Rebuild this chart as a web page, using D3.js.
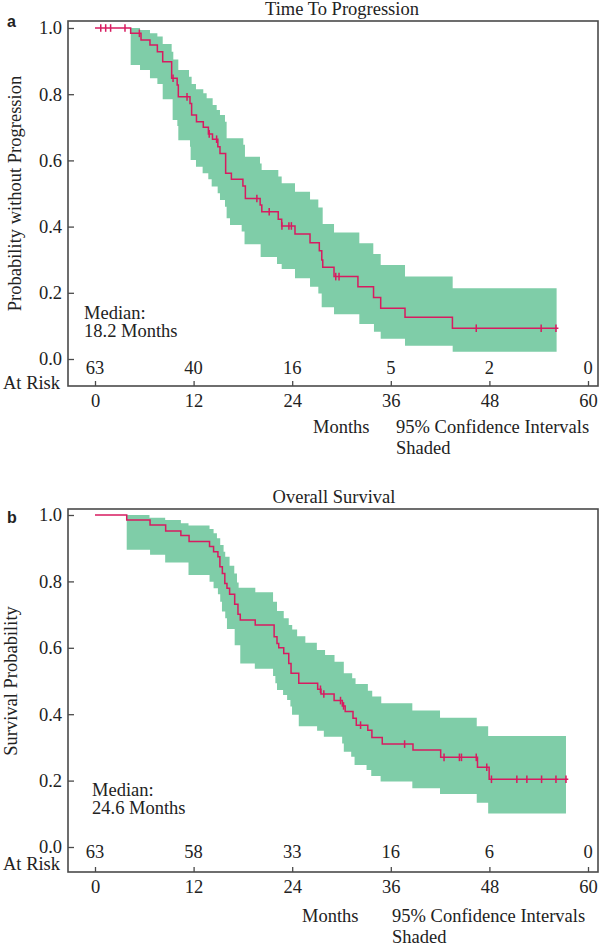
<!DOCTYPE html>
<html>
<head>
<meta charset="utf-8">
<script src="https://cdn.jsdelivr.net/npm/d3@7"></script>
<style>
  html, body { margin: 0; padding: 0; background: #fff; }
  svg text { font-family: "Liberation Serif", "DejaVu Serif", serif; fill: #222; }
</style>
</head>
<body>
<svg id="chart" width="600" height="947"></svg>
<script>
// ---------- DATA ----------
const monthTicks = [0, 12, 24, 36, 48, 60];
const probTicks = [0, 0.2, 0.4, 0.6, 0.8, 1.0];

// Panel a: Time To Progression
const tpStepTimes = [0, 4.34, 5.6, 6.69, 7.59, 8.24, 9.33, 10.0, 10.14, 11.56, 11.76, 12.35, 13.18, 13.8, 14.3, 14.95, 15.21, 15.9, 16.6, 18.0, 18.3, 20.1, 20.3, 22.3, 22.72, 24.34, 26.17, 27.3, 27.6, 27.72, 29.09, 32.0, 33.9, 34.77, 37.73, 43.5];
const tpSurv = [1.0, 0.984, 0.964, 0.949, 0.928, 0.898, 0.848, 0.828, 0.792, 0.772, 0.737, 0.717, 0.700, 0.680, 0.664, 0.641, 0.621, 0.561, 0.543, 0.523, 0.485, 0.465, 0.445, 0.422, 0.402, 0.378, 0.351, 0.327, 0.299, 0.277, 0.249, 0.218, 0.186, 0.153, 0.126, 0.093];
const tpEnd = 56.4;
const tpCensor = [0.7, 1.3, 1.9, 3.65, 5.4, 9.5, 11.2, 13.9, 14.8, 19.7, 21.2, 22.75, 23.6, 23.9, 29.3, 29.7, 46.4, 54.3, 56.1];
const tpUpperTimes = [4.34, 5.48, 6.69, 7.59, 8.24, 9.33, 9.53, 10.14, 11.44, 11.76, 12.29, 13.18, 13.59, 14.32, 14.81, 15.21, 15.82, 16.02, 18.05, 18.25, 20.08, 20.28, 22.31, 22.72, 24.34, 26.17, 27.18, 27.71, 29.09, 32.17, 33.87, 34.77, 37.73, 43.53];
const tpUpperVals = [1.0, 0.994, 0.984, 0.974, 0.952, 0.928, 0.905, 0.873, 0.853, 0.831, 0.815, 0.803, 0.788, 0.767, 0.752, 0.737, 0.717, 0.667, 0.647, 0.611, 0.591, 0.571, 0.551, 0.531, 0.505, 0.482, 0.458, 0.408, 0.382, 0.350, 0.317, 0.284, 0.249, 0.214];
const tpLowerTimes = [4.34, 5.48, 6.69, 7.59, 8.24, 9.45, 10.02, 10.14, 11.56, 11.64, 12.29, 13.10, 13.79, 14.20, 14.93, 15.21, 15.82, 16.02, 16.43, 17.85, 18.2, 20.16, 22.15, 22.72, 24.34, 26.17, 27.18, 27.59, 29.09, 32.17, 33.95, 34.77, 37.73, 43.53];
const tpLowerVals = [0.888, 0.873, 0.848, 0.831, 0.785, 0.722, 0.704, 0.661, 0.641, 0.601, 0.581, 0.561, 0.543, 0.521, 0.501, 0.480, 0.460, 0.425, 0.405, 0.385, 0.347, 0.308, 0.287, 0.272, 0.244, 0.218, 0.198, 0.156, 0.135, 0.106, 0.082, 0.061, 0.040, 0.022];
const tpBandEnd = 56.18;
const tpAtRisk = [63, 40, 16, 5, 2, 0];

// Panel b: Overall Survival
const osStepTimes = [0, 3.86, 6.7, 8.6, 10.45, 11.45, 13.94, 14.43, 14.96, 15.2, 15.5, 15.8, 16.06, 16.38, 17.0, 17.4, 17.68, 19.5, 21.8, 22.15, 22.36, 22.97, 23.58, 23.86, 24.8, 27.1, 27.5, 29.1, 30.1, 30.45, 31.4, 31.8, 33.2, 33.7, 34.96, 38.7, 42.07, 46.55, 47.97];
const osSurv = [1.0, 0.985, 0.970, 0.952, 0.938, 0.920, 0.905, 0.889, 0.874, 0.844, 0.824, 0.794, 0.779, 0.761, 0.731, 0.701, 0.684, 0.669, 0.633, 0.613, 0.600, 0.583, 0.553, 0.523, 0.493, 0.475, 0.461, 0.441, 0.425, 0.408, 0.388, 0.367, 0.352, 0.330, 0.310, 0.292, 0.270, 0.240, 0.204];
const osEnd = 57.6;
const osCensor = [27.44, 27.85, 29.88, 30.25, 32.32, 37.68, 42.48, 44.35, 44.6, 46.4, 47.68, 48.25, 51.34, 52.56, 54.35, 56.1, 57.32];
const osUpperTimes = [3.86, 6.63, 8.54, 10.45, 11.38, 13.94, 14.43, 14.84, 15.24, 15.65, 15.85, 16.38, 16.95, 17.28, 17.48, 19.51, 21.67, 22.15, 22.97, 23.58, 24.0, 24.6, 25.6, 27.0, 28.0, 29.15, 30.28, 31.30, 31.71, 33.21, 33.74, 34.84, 38.62, 41.99, 46.46, 47.85];
const osUpperVals = [1.0, 0.992, 0.985, 0.975, 0.968, 0.958, 0.945, 0.930, 0.910, 0.889, 0.874, 0.847, 0.824, 0.797, 0.781, 0.767, 0.739, 0.711, 0.689, 0.669, 0.655, 0.635, 0.615, 0.593, 0.578, 0.558, 0.523, 0.508, 0.491, 0.471, 0.453, 0.433, 0.411, 0.389, 0.364, 0.334];
const osLowerTimes = [3.86, 6.7, 8.54, 11.38, 13.94, 14.43, 14.96, 15.24, 15.45, 15.85, 16.06, 17.0, 17.68, 19.45, 21.67, 21.95, 22.15, 22.89, 23.38, 23.78, 23.98, 24.80, 27.03, 27.85, 30.08, 30.28, 31.18, 31.59, 33.05, 33.62, 34.76, 38.62, 41.99, 46.46, 47.85];
const osLowerVals = [0.895, 0.880, 0.857, 0.819, 0.799, 0.779, 0.761, 0.739, 0.709, 0.689, 0.657, 0.608, 0.553, 0.537, 0.515, 0.493, 0.473, 0.458, 0.443, 0.423, 0.398, 0.364, 0.350, 0.332, 0.312, 0.287, 0.272, 0.247, 0.232, 0.214, 0.197, 0.177, 0.160, 0.133, 0.101];
const osBandEnd = 57.32;
const osAtRisk = [63, 58, 33, 16, 6, 0];

// ---------- DRAW ----------
const svg = d3.select("#chart");
const GREEN = "#7fcda8";
const RED = "#d81b60";
const FRAME = "#4a4a4a";
const FS = 18.5;

function stepAt(times, vals, t) {
  const i = d3.bisectRight(times, t) - 1;
  return vals[Math.max(0, i)];
}

function drawPanel(cfg) {
  const g = svg.append("g");
  const x = d3.scaleLinear().domain([0, 60]).range([95, 588]);
  const y = d3.scaleLinear().domain([0, 1]).range([cfg.y0, cfg.y1]);

  // confidence band
  const bps = Array.from(new Set(cfg.upT.concat(cfg.loT))).sort((a, b) => a - b);
  const band = bps.map(t => ({t, hi: stepAt(cfg.upT, cfg.upV, t), lo: stepAt(cfg.loT, cfg.loV, t)}));
  const last = band[band.length - 1];
  band.push({t: cfg.bandEnd, hi: last.hi, lo: last.lo});
  g.append("path")
    .datum(band)
    .attr("fill", GREEN)
    .attr("d", d3.area().curve(d3.curveStepAfter)
      .x(d => x(d.t)).y0(d => y(d.lo)).y1(d => y(d.hi)));

  // KM line
  const pts = cfg.times.map((t, i) => ({t, s: cfg.surv[i]}));
  pts.push({t: cfg.end, s: cfg.surv[cfg.surv.length - 1]});
  g.append("path")
    .datum(pts)
    .attr("fill", "none")
    .attr("stroke", RED)
    .attr("stroke-width", 1.5)
    .attr("d", d3.line().curve(d3.curveStepAfter).x(d => x(d.t)).y(d => y(d.s)));

  // censor marks
  g.selectAll("line.cens").data(cfg.censor).enter().append("line")
    .attr("class", "cens")
    .attr("x1", d => x(d)).attr("x2", d => x(d))
    .attr("y1", d => y(stepAt(cfg.times, cfg.surv, d)) - 3.8)
    .attr("y2", d => y(stepAt(cfg.times, cfg.surv, d)) + 3.8)
    .attr("stroke", RED).attr("stroke-width", 1.5);

  // frame
  g.append("rect")
    .attr("x", 68).attr("y", cfg.top)
    .attr("width", 598 - 68).attr("height", cfg.bottom - cfg.top)
    .attr("fill", "none").attr("stroke", FRAME).attr("stroke-width", 1.6);

  // axes
  const xAxis = g.append("g").attr("transform", `translate(0,${cfg.bottom})`)
    .call(d3.axisBottom(x).tickValues(monthTicks).tickSizeInner(-5).tickSizeOuter(0).tickPadding(8).tickFormat(d3.format("d")));
  xAxis.select(".domain").remove();
  xAxis.selectAll("line").attr("stroke", FRAME).attr("stroke-width", 1.3);
  xAxis.selectAll("text").attr("font-size", FS).attr("font-family", "Liberation Serif").attr("fill", "#222");

  const yAxis = g.append("g").attr("transform", "translate(68,0)")
    .call(d3.axisLeft(y).tickValues(probTicks).tickSizeInner(-6).tickSizeOuter(0).tickPadding(6).tickFormat(d3.format(".1f")));
  yAxis.select(".domain").remove();
  yAxis.selectAll("line").attr("stroke", FRAME).attr("stroke-width", 1.3);
  yAxis.selectAll("text").attr("font-size", FS).attr("font-family", "Liberation Serif").attr("fill", "#222");

  // at risk
  g.selectAll("text.risk").data(cfg.atRisk).enter().append("text")
    .attr("class", "risk")
    .attr("x", (d, i) => x(monthTicks[i]))
    .attr("y", cfg.riskY)
    .attr("text-anchor", "middle").attr("font-size", FS)
    .text(d => d);
  g.append("text").attr("x", 3).attr("y", cfg.riskLabelY).attr("font-size", FS).text("At Risk");

  // title
  g.append("text").attr("x", cfg.titleX).attr("y", cfg.titleY)
    .attr("text-anchor", "middle").attr("font-size", FS).text(cfg.title);

  // panel letter
  g.append("text").attr("x", 7).attr("y", cfg.letterY)
    .style("font-family", "'Liberation Sans', Arial, sans-serif")
    .attr("font-weight", "bold").attr("font-size", 16).text(cfg.letter);

  // y label
  g.append("text")
    .attr("transform", `translate(${cfg.ylabX},${y(0.5)}) rotate(-90)`)
    .attr("text-anchor", "middle").attr("font-size", FS).text(cfg.ylabel);

  // median
  g.append("text").attr("x", cfg.medX).attr("y", cfg.medY).attr("font-size", FS).text("Median:");
  g.append("text").attr("x", cfg.medX).attr("y", cfg.medY + 17.5).attr("font-size", FS).text(cfg.median);

  // bottom notes
  g.append("text").attr("x", cfg.monthsX).attr("y", cfg.noteY).attr("font-size", FS).text("Months");
  g.append("text").attr("x", cfg.ciX).attr("y", cfg.noteY).attr("font-size", FS).text("95% Confidence Intervals");
  g.append("text").attr("x", cfg.ciX).attr("y", cfg.noteY + 21).attr("font-size", FS).text("Shaded");
}

drawPanel({
  top: 21, bottom: 386, y0: 359, y1: 28,
  times: tpStepTimes, surv: tpSurv, end: tpEnd, censor: tpCensor,
  upT: tpUpperTimes, upV: tpUpperVals, loT: tpLowerTimes, loV: tpLowerVals, bandEnd: tpBandEnd,
  atRisk: tpAtRisk, riskY: 374, riskLabelY: 389,
  title: "Time To Progression", titleX: 342, titleY: 15,
  letter: "a", letterY: 27,
  ylabel: "Probability without Progression", ylabX: 21,
  medX: 84, medY: 319, median: "18.2 Months",
  monthsX: 313, ciX: 396, noteY: 433
});

drawPanel({
  top: 509, bottom: 872, y0: 847, y1: 515,
  times: osStepTimes, surv: osSurv, end: osEnd, censor: osCensor,
  upT: osUpperTimes, upV: osUpperVals, loT: osLowerTimes, loV: osLowerVals, bandEnd: osBandEnd,
  atRisk: osAtRisk, riskY: 858, riskLabelY: 870,
  title: "Overall Survival", titleX: 334, titleY: 503,
  letter: "b", letterY: 523,
  ylabel: "Survival Probability", ylabX: 17,
  medX: 92, medY: 796, median: "24.6 Months",
  monthsX: 302, ciX: 392, noteY: 922
});
</script>
</body>
</html>
